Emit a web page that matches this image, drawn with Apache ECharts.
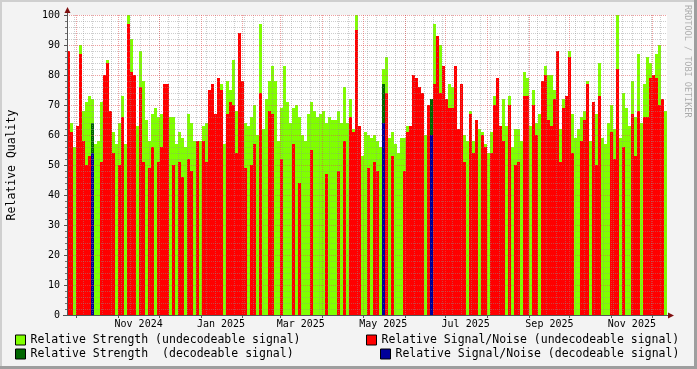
<!DOCTYPE html>
<html><head><meta charset="utf-8">
<script src="https://cdn.jsdelivr.net/npm/echarts@6/dist/echarts.min.js"></script>
<style>html,body{margin:0;padding:0;background:#F3F3F3}#c{width:697px;height:369px}</style>
</head><body><div id="c"></div><script>
// time range of the graph
const startDate = '2024-09-24';
const spanDays = 444;

// Relative Strength (undecodeable signal), one value per ~2.2 days
const strength = [
64,64,56,59,90,68,71,73,72,57,
58,71,68,85,61,61,57,64,73,57,
100,92,74,63,88,78,65,58,67,69,
66,67,58,58,66,66,57,61,59,56,
67,64,58,57,58,63,64,60,72,67,
68,77,57,78,75,85,68,73,70,64,
63,66,70,60,97,62,72,78,83,78,
58,69,83,71,64,69,70,66,60,58,
67,71,68,66,67,68,64,66,65,65,
68,64,76,64,72,62,100,54,53,61,
60,59,60,58,56,82,86,59,61,57,
54,59,59,63,63,68,68,75,73,60,
66,72,97,61,90,79,69,77,76,67,
62,61,60,58,68,58,52,62,61,57,
54,61,73,66,63,72,63,73,56,62,
62,58,81,79,63,75,64,67,76,83,
80,80,75,62,62,72,65,88,67,59,
62,66,68,78,58,66,67,84,59,57,
64,70,62,100,59,74,69,63,78,66,
87,64,77,86,84,80,87,90,66,68
];

// Relative Signal/Noise (undecodeable signal)
const snr = [
88,61,null,63,87,58,50,53,null,null,
null,51,80,84,68,54,null,50,66,null,
97,81,80,null,76,51,null,49,56,null,
51,56,77,77,null,50,null,51,46,null,
52,48,null,58,null,58,51,75,77,67,
79,75,null,67,71,70,54,94,78,49,
null,50,57,null,74,null,null,68,67,null,
null,52,null,null,null,57,null,44,null,null,
null,55,null,null,null,null,47,null,null,null,
48,null,58,null,66,61,95,63,null,null,
49,null,51,48,null,72,74,null,53,null,
null,null,48,61,63,80,79,76,74,null,
70,null,77,93,74,83,72,69,69,83,
62,77,51,null,67,54,65,null,60,56,
null,54,70,79,63,58,null,70,null,50,
51,null,73,73,null,70,60,null,78,80,
65,63,72,88,51,69,73,86,54,null,
null,58,65,77,null,71,50,73,null,null,
null,61,52,82,null,56,null,null,67,53,
68,null,66,66,79,80,79,70,72,null
];

// decodeable signal: bin index -> value
const strengthDecodeable = {8: 64, 105: 77, 121: 72};
const snrDecodeable = {8: 54, 105: 64, 121: 60};

// axis: month boundaries and labels
const monthStarts = ['2024-10-01','2024-11-01','2024-12-01','2025-01-01','2025-02-01','2025-03-01','2025-04-01','2025-05-01','2025-06-01','2025-07-01','2025-08-01','2025-09-01','2025-10-01','2025-11-01','2025-12-01'];
const tickLabels = ['Nov 2024','Jan 2025','Mar 2025','May 2025','Jul 2025','Sep 2025','Nov 2025'];
const tickLabelDates = ['2024-11-16','2025-01-16','2025-03-16','2025-05-16','2025-07-16','2025-09-16','2025-11-16'];

const seriesNames = [
  'Relative Strength (undecodeable signal)',
  'Relative Signal/Noise (undecodeable signal)',
  'Relative Strength  (decodeable signal)',
  'Relative Signal/Noise (decodeable signal)'
];
const colors = ['#80FF00', '#FF0000', '#006600', '#000099'];

const DAY = 86400000;
const t0 = Date.parse(startDate);
const dayOf = s => (Date.parse(s) - t0) / DAY;
const n = strength.length;
const categories = strength.map((_, i) => new Date(t0 + i * spanDays / n * DAY).toISOString().slice(0, 10));
const fromMap = m => strength.map((_, i) => (m[i] !== undefined ? m[i] : null));
const monthDays = monthStarts.map(dayOf);
const labelDays = tickLabelDates.map(dayOf);
const weekDays = [];
for (let d = 5; d < spanDays; d += 7) weekDays.push(d);

const FONT = 'DejaVu Sans Mono';
const chart = echarts.init(document.getElementById('c'));

function bar(name, data, color) {
  return {
    name, type: 'bar', data, xAxisIndex: 0, yAxisIndex: 0,
    barWidth: '100%', barGap: '-100%', barCategoryGap: '0%',
    itemStyle: {color}, emphasis: {disabled: true}, silent: true
  };
}
function legend(name, left, top) {
  return {
    data: [name], left, top, padding: 0, itemWidth: 10, itemHeight: 10,
    icon: 'rect', selectedMode: false,
    itemStyle: {borderColor: '#000', borderWidth: 1},
    textStyle: {fontFamily: FONT, fontSize: 11.5, color: '#000', padding: [0, 0, 0, 0]}
  };
}

chart.setOption({
  animation: false,
  backgroundColor: '#F3F3F3',
  grid: {left: 67, top: 15, width: 600, height: 300, show: true, backgroundColor: '#FFFFFF', borderWidth: 0,
    containLabel: false, outerBoundsMode: 'none'},
  xAxis: [
    {type: 'category', data: categories, show: false, boundaryGap: true},
    {type: 'value', min: 0, max: spanDays, position: 'bottom', z: 5,
      axisLine: {show: true, lineStyle: {color: '#555', width: 1}},
      axisTick: {show: true, length: 3, customValues: monthDays, lineStyle: {color: '#555'}},
      axisLabel: {show: true, customValues: labelDays, margin: 4, fontFamily: FONT, fontSize: 10, color: '#000',
        formatter: v => { const k = labelDays.findIndex(d => Math.abs(d - v) < 0.01); return k >= 0 ? tickLabels[k] : ''; }},
      splitLine: {show: true, lineStyle: {color: 'rgba(224,80,80,0.55)', type: [1, 1], width: 1}}
    },
    {type: 'value', min: 0, max: spanDays, position: 'bottom', z: 4,
      axisLine: {show: false}, axisLabel: {show: false},
      axisTick: {show: false, customValues: weekDays},
      splitLine: {show: true, lineStyle: {color: 'rgba(144,144,144,0.45)', type: [1, 1], width: 1}}
    }
  ],
  yAxis: {
    type: 'value', min: 0, max: 100, interval: 10, z: 5,
    name: 'Relative Quality', nameLocation: 'middle', nameGap: 49, nameRotate: 90,
    nameTextStyle: {fontFamily: FONT, fontSize: 11.5, color: '#000'},
    axisLine: {show: true, lineStyle: {color: '#555', width: 1}},
    axisTick: {show: true, length: 3, lineStyle: {color: '#555'}},
    minorTick: {show: true, splitNumber: 5, length: 2, lineStyle: {color: '#777'}},
    axisLabel: {fontFamily: FONT, fontSize: 10, color: '#000', margin: 7},
    splitLine: {show: true, lineStyle: {color: 'rgba(224,80,80,0.55)', type: [1, 1], width: 1}},
    minorSplitLine: {show: true, lineStyle: {color: 'rgba(144,144,144,0.45)', type: [1, 1], width: 1}}
  },
  legend: [
    legend(seriesNames[0], 15, 334),
    legend(seriesNames[1], 366, 334),
    legend(seriesNames[2], 15, 348),
    legend(seriesNames[3], 380, 348)
  ],
  series: [
    bar(seriesNames[0], strength, colors[0]),
    bar(seriesNames[1], snr, colors[1]),
    bar(seriesNames[2], fromMap(strengthDecodeable), colors[2]),
    bar(seriesNames[3], fromMap(snrDecodeable), colors[3])
  ],
  graphic: [
    {type: 'rect', shape: {x: 0, y: 0, width: 697, height: 2}, style: {fill: '#CFCFCF'}, silent: true},
    {type: 'rect', shape: {x: 0, y: 0, width: 2, height: 369}, style: {fill: '#CFCFCF'}, silent: true},
    {type: 'rect', shape: {x: 0, y: 366, width: 697, height: 3}, style: {fill: '#9E9E9E'}, silent: true},
    {type: 'rect', shape: {x: 694, y: 0, width: 3, height: 369}, style: {fill: '#9E9E9E'}, silent: true},
    {type: 'line', shape: {x1: 67.5, y1: 12, x2: 67.5, y2: 15}, style: {stroke: '#555', lineWidth: 1}, silent: true},
    {type: 'line', shape: {x1: 63, y1: 315.5, x2: 67, y2: 315.5}, style: {stroke: '#555', lineWidth: 1}, silent: true},
    {type: 'line', shape: {x1: 667, y1: 315.5, x2: 669, y2: 315.5}, style: {stroke: '#555', lineWidth: 1}, silent: true},
    {type: 'polygon', shape: {points: [[67.5, 7], [64.5, 13], [70.5, 13]]}, style: {fill: '#801010'}, silent: true},
    {type: 'polygon', shape: {points: [[674, 315.5], [668, 312.5], [668, 318.5]]}, style: {fill: '#801010'}, silent: true},
    {type: 'text', x: 687, y: 5, rotation: -Math.PI / 2, silent: true,
      style: {text: 'RRDTOOL / TOBI OETIKER', fontFamily: FONT, fontSize: 8.5, fill: 'rgba(0,0,0,0.3)', align: 'left', verticalAlign: 'middle'}}
  ]
});
</script></body></html>
